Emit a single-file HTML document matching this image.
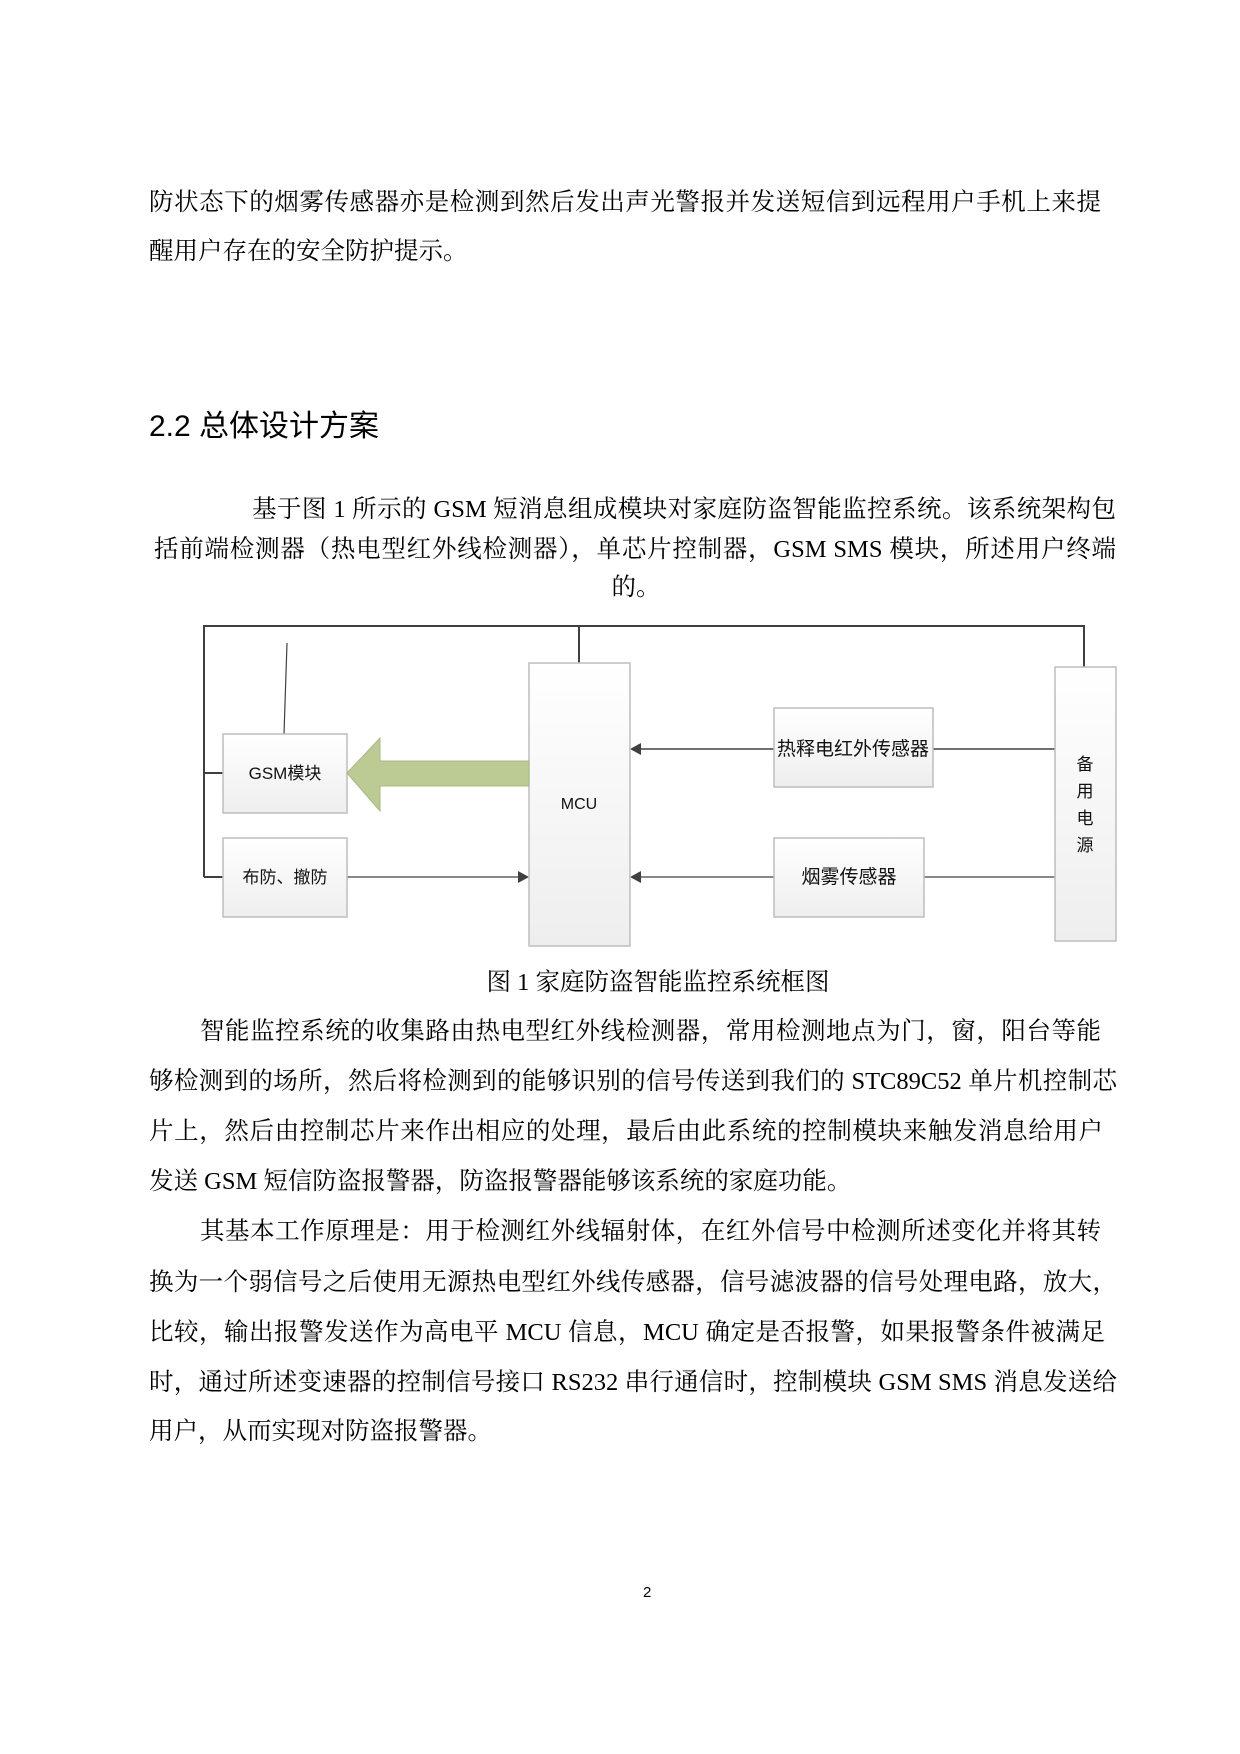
<!DOCTYPE html>
<html><head><meta charset="utf-8"><style>
html,body{margin:0;padding:0;background:#fff;}
body{width:1240px;height:1754px;position:relative;overflow:hidden;font-family:"Liberation Serif","Noto Serif CJK SC",serif;color:#000;}
.l{position:absolute;left:149px;width:952px;height:34px;line-height:34px;font-size:24.5px;white-space:nowrap;text-align:justify;text-align-last:justify;}
.n{text-align-last:left;}
</style></head><body>
<div class="l" style="top:186px">防状态下的烟雾传感器亦是检测到然后发出声光警报并发送短信到远程用户手机上来提</div>
<div class="l n" style="top:235px">醒用户存在的安全防护提示。</div>
<div class="l n" style="top:408px;font-size:30px;line-height:38px;font-family:'Liberation Sans','Noto Sans CJK SC',sans-serif;">2.2 总体设计方案</div>
<div class="l" style="top:493px;left:252px;width:864px">基于图 1 所示的 GSM 短消息组成模块对家庭防盗智能监控系统。该系统架构包</div>
<div class="l" style="top:533px;left:154px;width:962px">括前端检测器（热电型红外线检测器），单芯片控制器，GSM SMS 模块，所述用户终端</div>
<div class="l n" style="top:571px;left:0;width:1240px;text-align:center;text-align-last:center;padding-left:32px;box-sizing:border-box">的。</div>

<svg style="position:absolute;left:0;top:0" width="1240" height="1000">
<defs>
<linearGradient id="g" x1="0" y1="0" x2="0" y2="1"><stop offset="0" stop-color="#ffffff"/><stop offset="1" stop-color="#eeeeee"/></linearGradient>
</defs>
<g stroke="#404040" fill="none">
<polyline points="204,734 204,626 1084,626 1084,667" stroke-width="2"/>
<line x1="204" y1="626" x2="204" y2="877" stroke-width="2"/>
<line x1="579" y1="626" x2="579" y2="663" stroke-width="2"/>
<line x1="204" y1="773" x2="223" y2="773" stroke-width="2"/>
<line x1="204" y1="877" x2="223" y2="877" stroke-width="2"/>
<line x1="287" y1="643" x2="284" y2="734" stroke-width="1.2"/>
<line x1="347" y1="877" x2="522" y2="877" stroke-width="1.2"/>
<line x1="637" y1="749" x2="774" y2="749" stroke-width="1.5"/>
<line x1="933" y1="749" x2="1055" y2="749" stroke-width="1.5"/>
<line x1="637" y1="877" x2="774" y2="877" stroke-width="1.2"/>
<line x1="924" y1="877" x2="1055" y2="877" stroke-width="1.2"/>
</g>
<g fill="#404040">
<polygon points="529,877 518,871 518,883"/>
<polygon points="630,749 641,743 641,755"/>
<polygon points="630,877 641,871 641,883"/>
</g>
<g stroke="#bdbdbd" stroke-width="1.5" fill="url(#g)">
<rect x="223" y="734" width="124" height="79"/>
<rect x="223" y="838" width="124" height="79"/>
<rect x="529" y="663" width="101" height="283"/>
<rect x="774" y="708" width="159" height="79"/>
<rect x="774" y="838" width="150" height="79"/>
<rect x="1055" y="667" width="61" height="274"/>
</g>
<polygon points="347,773 380,738 380,761 529,761 529,786 380,786 380,811" fill="#bcca94" stroke="#a9b884" stroke-width="1"/>
<g font-family="'Liberation Sans','Noto Sans CJK SC',sans-serif" font-size="17" fill="#111" text-anchor="middle">
<text x="285" y="779">GSM模块</text>
<text x="285" y="883">布防、撤防</text>
<text x="579" y="809" font-size="16">MCU</text>
<text x="853" y="755" font-size="19">热释电红外传感器</text>
<text x="849" y="883" font-size="19">烟雾传感器</text>
<text x="1085" y="770">备</text>
<text x="1085" y="797">用</text>
<text x="1085" y="824">电</text>
<text x="1085" y="851">源</text>
</g>
</svg>

<div class="l n" style="top:966px;left:0;width:1240px;text-align:center;text-align-last:center;padding-left:76px;box-sizing:border-box">图 1 家庭防盗智能监控系统框图</div>
<div class="l" style="top:1015px;left:200px;width:901px">智能监控系统的收集路由热电型红外线检测器，常用检测地点为门，窗，阳台等能</div>
<div class="l" style="top:1065px;width:968px">够检测到的场所，然后将检测到的能够识别的信号传送到我们的 STC89C52 单片机控制芯</div>
<div class="l" style="top:1115px;width:954px">片上，然后由控制芯片来作出相应的处理，最后由此系统的控制模块来触发消息给用户</div>
<div class="l n" style="top:1165px">发送 GSM 短信防盗报警器，防盗报警器能够该系统的家庭功能。</div>
<div class="l" style="top:1215px;left:200px;width:901px">其基本工作原理是：用于检测红外线辐射体，在红外信号中检测所述变化并将其转</div>
<div class="l" style="top:1266px;width:968px">换为一个弱信号之后使用无源热电型红外线传感器，信号滤波器的信号处理电路，放大，</div>
<div class="l" style="top:1316px;width:956px">比较，输出报警发送作为高电平 MCU 信息，MCU 确定是否报警，如果报警条件被满足</div>
<div class="l" style="top:1366px;width:968px">时，通过所述变速器的控制信号接口 RS232 串行通信时，控制模块 GSM SMS 消息发送给</div>
<div class="l n" style="top:1415px">用户，从而实现对防盗报警器。</div>
<div style="position:absolute;left:643px;top:1583px;font-family:'Liberation Sans',sans-serif;font-size:15px;line-height:20px">2</div>
</body></html>
